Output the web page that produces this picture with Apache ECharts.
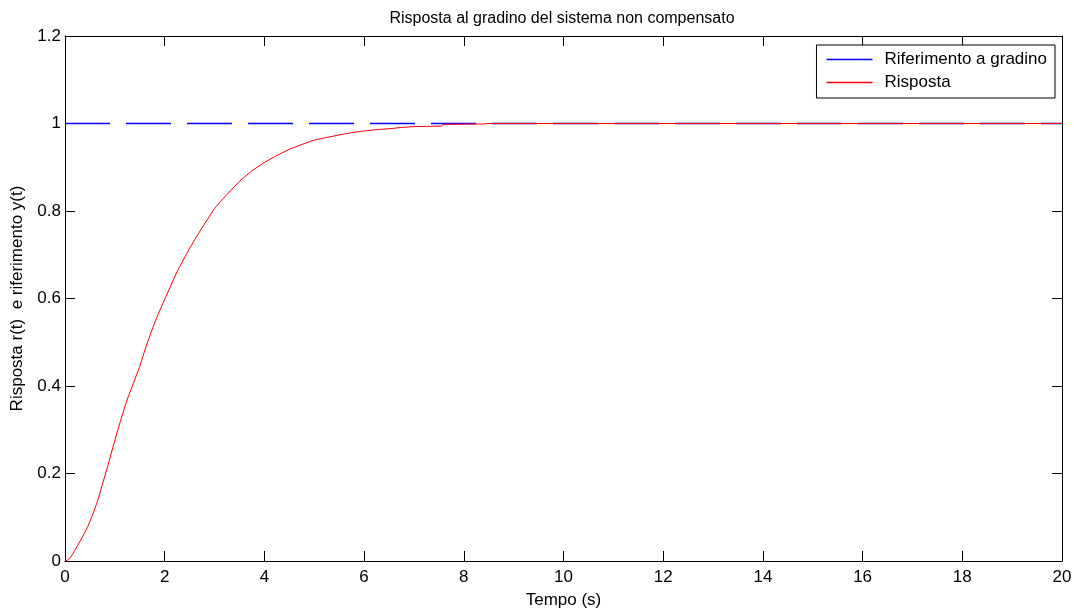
<!DOCTYPE html>
<html>
<head>
<meta charset="utf-8">
<script src="https://cdn.jsdelivr.net/npm/echarts@6/dist/echarts.min.js"></script>
<style>
html,body{margin:0;padding:0;background:#fff;}
#chart{width:1076px;height:614px;}
</style>
</head>
<body>
<div id="chart"></div>
<script>
// Data
const timeResp = [0, 0.05, 0.1, 0.15, 0.25, 0.35, 0.45, 0.55, 0.65, 0.75, 0.875, 1.0, 1.125, 1.25, 1.375, 1.5, 1.625, 1.75, 1.875, 2.0, 2.25, 2.5, 2.75, 3.0, 3.25, 3.5, 3.75, 4.0, 4.25, 4.5, 4.75, 5.0, 5.25, 5.5, 5.75, 6.0, 6.25, 6.5, 6.75, 7.0, 7.55, 7.6, 8.4, 8.5, 20];
const valResp  = [0, 0.002, 0.007, 0.015, 0.035, 0.055, 0.077, 0.104, 0.136, 0.175, 0.224, 0.276, 0.325, 0.37, 0.407, 0.445, 0.49, 0.53, 0.566, 0.598, 0.662, 0.715, 0.762, 0.806, 0.838, 0.868, 0.892, 0.911, 0.927, 0.941, 0.952, 0.962, 0.968, 0.974, 0.979, 0.983, 0.986, 0.988, 0.991, 0.993, 0.994, 0.998, 0.999, 1.0, 1.0];
const timeRef = [0, 20];
const valRef  = [1, 1];
const seriesNames = ['Riferimento a gradino', 'Risposta'];
const titleText = 'Risposta al gradino del sistema non compensato';
const xName = 'Tempo (s)';
const yName = 'Risposta r(t)  e riferimento y(t)';

const BLUE = '#0000ff';
const RED = '#ff0000';
const FONT = '"Liberation Sans", Arial, Helvetica, sans-serif';
const chart = echarts.init(document.getElementById('chart'));

const refData = timeRef.map((t, i) => [t, valRef[i]]);
const respData = timeResp.map((t, i) => [t, valResp[i]]);

const axisCommon = {
  axisLine: { show: true, onZero: false, lineStyle: { color: '#000', width: 1 } },
  axisTick: { show: true, inside: true, length: 10, lineStyle: { color: '#000', width: 1 } },
  splitLine: { show: false }
};

chart.setOption({
  animation: false,
  backgroundColor: '#fff',
  color: [BLUE, RED],
  title: {
    text: titleText,
    left: 557, top: 6, textAlign: 'center',
    textStyle: { fontFamily: FONT, fontSize: 16, fontWeight: 'normal', color: '#000' }
  },
  grid: { left: 65, right: 14, top: 36, bottom: 49, containLabel: false },
  legend: {
    data: [
      { name: seriesNames[0], icon: 'rect', itemStyle: { color: BLUE } },
      { name: seriesNames[1], icon: 'rect', itemStyle: { color: RED } }
    ],
    orient: 'vertical',
    right: 21, top: 45,
    backgroundColor: '#fff',
    borderColor: '#000', borderWidth: 1,
    padding: [6, 8, 7, 10],
    itemWidth: 46, itemHeight: 1.5, itemGap: 6,
    textStyle: { fontFamily: FONT, fontSize: 17, color: '#000', padding: [0, 0, 0, 7] }
  },
  xAxis: [
    Object.assign({
      type: 'value', min: 0, max: 20, interval: 2, position: 'bottom',
      name: xName, nameLocation: 'middle', nameGap: 31,
      nameTextStyle: { fontFamily: FONT, fontSize: 17, color: '#000' },
      axisLabel: { fontFamily: FONT, fontSize: 17, color: '#000', margin: 8 }
    }, axisCommon),
    Object.assign({
      type: 'value', min: 0, max: 20, interval: 2, position: 'top',
      axisLabel: { show: false }
    }, axisCommon)
  ],
  yAxis: [
    Object.assign({
      type: 'value', min: 0, max: 1.2, interval: 0.2, position: 'left',
      name: yName, nameLocation: 'middle', nameGap: 39,
      nameTextStyle: { fontFamily: FONT, fontSize: 17, color: '#000' },
      axisLabel: { fontFamily: FONT, fontSize: 17, color: '#000', margin: 4,
        formatter: v => String(Math.round(v * 10) / 10) }
    }, axisCommon),
    Object.assign({
      type: 'value', min: 0, max: 1.2, interval: 0.2, position: 'right',
      axisLabel: { show: false }
    }, axisCommon)
  ],
  series: [
    {
      name: seriesNames[0], type: 'line', data: refData,
      symbol: 'none',
      itemStyle: { color: BLUE },
      lineStyle: { color: BLUE, width: 1.5, type: [45, 16] }
    },
    {
      name: seriesNames[1], type: 'line', data: respData,
      symbol: 'none',
      itemStyle: { color: RED },
      lineStyle: { color: RED, width: 1 }
    }
  ]
});
</script>
</body>
</html>
